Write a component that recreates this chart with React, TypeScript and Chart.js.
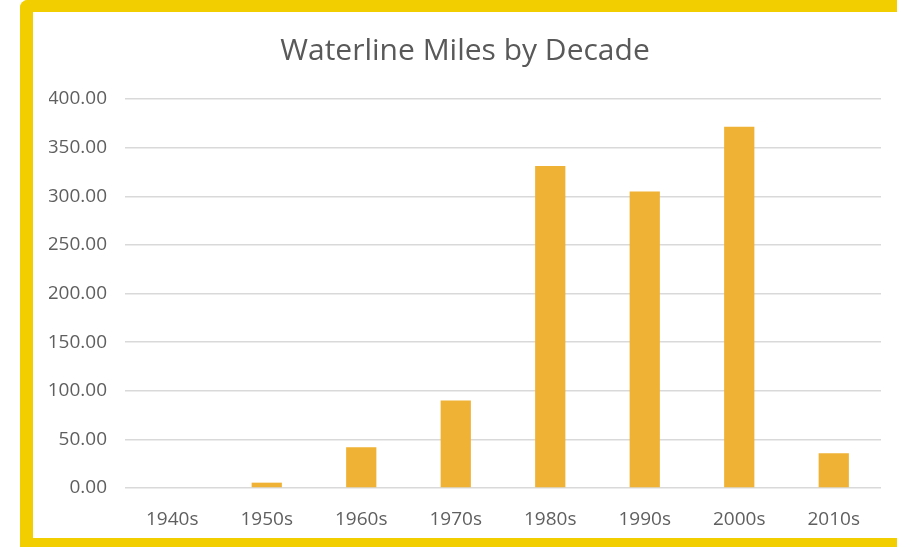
import React, { useEffect, useRef } from "react";
import { Chart, registerables } from "chart.js";

Chart.register(...registerables);

const categories = ["1940s", "1950s", "1960s", "1970s", "1980s", "1990s", "2000s", "2010s"];
const waterlineMiles = [0, 5.5, 42, 90, 331, 305, 371.5, 35.7];
const yTicks = [0, 50, 100, 150, 200, 250, 300, 350, 400];
const chartTitle = "Waterline Miles by Decade";

export default function App() {
  const ref = useRef<HTMLCanvasElement | null>(null);

  useEffect(() => {
    if (!ref.current) return;
    const chart = new Chart(ref.current, {
      type: "bar",
      data: {
        labels: categories,
        datasets: [
          {
            label: "Miles",
            data: waterlineMiles,
            backgroundColor: "#EFB234",
            borderWidth: 0,
            categoryPercentage: 1,
            barPercentage: 0.32,
          },
        ],
      },
      options: {
        animation: false,
        responsive: false,
        layout: { padding: { left: 16, right: 16, top: 0, bottom: 0 } },
        plugins: {
          legend: { display: false },
          tooltip: { enabled: false },
          title: {
            display: true,
            text: chartTitle,
            color: "#595959",
            font: { family: "'Open Sans', sans-serif", size: 30, weight: "normal" },
            padding: { top: 21, bottom: 30 },
          },
        },
        scales: {
          x: {
            grid: { display: false, drawTicks: false },
            border: { display: false },
            ticks: {
              color: "#5f5f5f",
              font: { family: "'Open Sans', sans-serif", size: 19 },
              padding: 20,
              maxRotation: 0,
            },
            afterFit: (s: any) => {
              s.height = 50;
            },
          },
          y: {
            min: 0,
            max: 400,
            afterBuildTicks: (s: any) => {
              s.ticks = yTicks.map((v) => ({ value: v }));
            },
            grid: { color: "#D9D9D9", lineWidth: 1.5, drawTicks: false },
            border: { display: false },
            ticks: {
              color: "#5f5f5f",
              font: { family: "'Open Sans', sans-serif", size: 19 },
              padding: 18,
              callback: (v: any) => Number(v).toFixed(2),
            },
            afterFit: (s: any) => {
              s.width = 76;
            },
          },
        },
      },
    });
    return () => chart.destroy();
  }, []);

  return (
    <div
      style={{
        position: "fixed",
        left: 0,
        top: 0,
        width: 897,
        height: 547,
        background: "#ffffff",
        overflow: "hidden",
      }}
    >
      <div
        style={{
          position: "absolute",
          left: 20,
          top: 0,
          width: 864,
          height: 526,
          borderLeft: "13px solid #F2CE00",
          borderTop: "12px solid #F2CE00",
          borderBottom: "9px solid #F2CE00",
          borderTopLeftRadius: 8,
          background: "#ffffff",
        }}
      >
        <canvas ref={ref} width={864} height={526} style={{ display: "block" }} />
      </div>
    </div>
  );
}
